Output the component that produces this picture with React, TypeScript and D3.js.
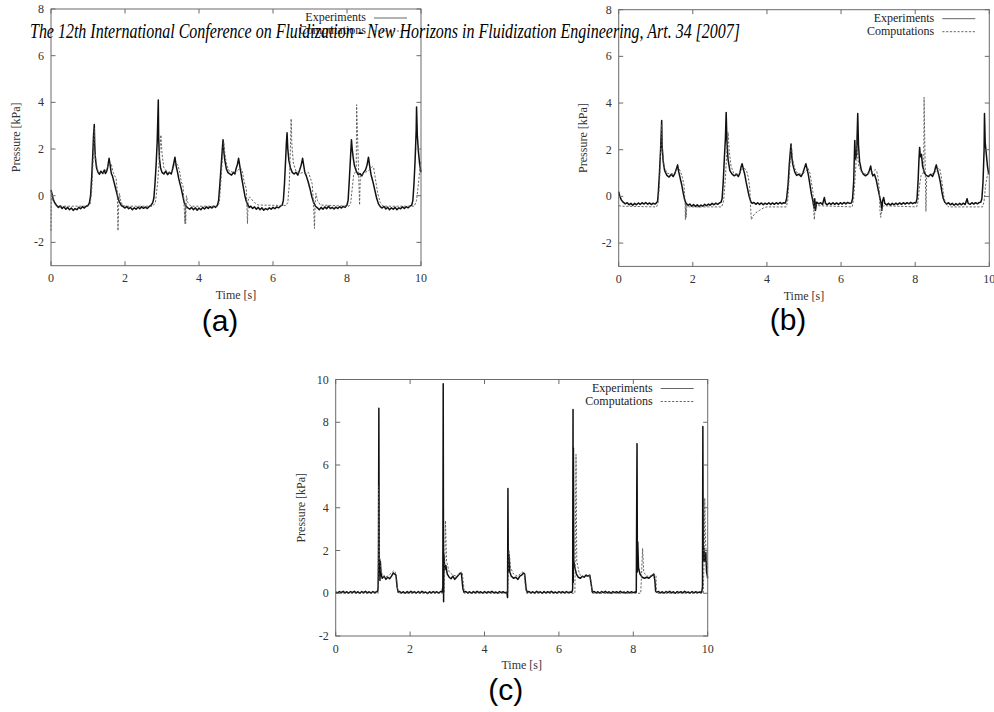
import React from "react";
import * as d3 from "d3";

const TITLE =
  "The 12th International Conference on Fluidization - New Horizons in Fluidization Engineering, Art. 34 [2007]";
const SERIES_NAMES = ["Experiments", "Computations"];
const PANEL_LABELS = ["(a)", "(b)", "(c)"];
const X_LABEL = "Time [s]";
const Y_LABEL = "Pressure [kPa]";
const X_TICKS = [0, 2, 4, 6, 8, 10];
const Y_TICKS_AB = [-2, 0, 2, 4, 6, 8];
const Y_TICKS_C = [-2, 0, 2, 4, 6, 8, 10];

type P = [number, number];

const aExp: P[] = [
  [0,0.25],[0.03,0.05],[0.06,-0.15],[0.1,-0.3],[0.15,-0.42],
  [0.2,-0.5],[0.25,-0.44],[0.3,-0.55],[0.35,-0.48],[0.4,-0.58],[0.45,-0.5],[0.5,-0.6],[0.55,-0.53],[0.6,-0.63],[0.65,-0.55],[0.7,-0.6],[0.75,-0.5],[0.8,-0.56],[0.85,-0.47],[0.9,-0.53],[0.95,-0.45],
  [1.0,-0.42],[1.04,-0.3],[1.07,0.0],[1.1,0.8],[1.13,1.8],[1.15,2.6],[1.17,3.05],[1.18,2.2],[1.2,1.6],[1.23,1.2],[1.27,1.0],[1.31,0.92],[1.35,1.05],[1.4,0.95],[1.44,1.1],[1.47,0.95],[1.5,1.02],[1.53,1.2],[1.57,1.6],[1.6,1.3],[1.63,0.95],[1.66,0.85],[1.7,0.6],[1.74,0.35],[1.78,0.1],[1.82,-0.15],[1.86,-0.3],[1.9,-0.42],
  [1.95,-0.47],[2.0,-0.53],[2.05,-0.46],[2.1,-0.56],[2.15,-0.5],[2.2,-0.6],[2.25,-0.52],[2.3,-0.58],[2.35,-0.49],[2.4,-0.56],[2.45,-0.48],[2.5,-0.54],[2.55,-0.49],[2.6,-0.55],[2.65,-0.47],[2.7,-0.42],
  [2.75,-0.3],[2.78,-0.1],[2.81,0.5],[2.84,1.3],[2.87,2.3],[2.9,4.1],[2.91,2.5],[2.93,1.6],[2.96,1.2],[3.0,1.0],[3.05,0.93],[3.1,1.05],[3.15,0.9],[3.2,1.0],[3.25,0.93],[3.28,1.1],[3.32,1.4],[3.35,1.65],[3.38,1.3],[3.42,1.0],[3.45,0.75],[3.48,0.55],[3.52,0.3],[3.56,0.0],[3.6,-0.3],[3.65,-0.45],
  [3.7,-0.52],[3.75,-0.58],[3.8,-0.5],[3.85,-0.6],[3.9,-0.52],[3.95,-0.62],[4.0,-0.53],[4.05,-0.6],[4.1,-0.5],[4.15,-0.57],[4.2,-0.48],[4.25,-0.55],[4.3,-0.47],[4.35,-0.53],[4.4,-0.45],[4.45,-0.5],[4.5,-0.4],
  [4.53,-0.2],[4.56,0.4],[4.6,1.3],[4.63,2.0],[4.65,2.4],[4.67,1.9],[4.7,1.5],[4.74,1.15],[4.78,1.0],[4.83,0.93],[4.88,0.88],[4.93,1.0],[4.97,0.93],[5.0,1.15],[5.04,1.35],[5.07,1.6],[5.1,1.3],[5.13,1.0],[5.16,0.7],[5.2,0.35],[5.24,0.0],[5.28,-0.25],[5.32,-0.4],
  [5.36,-0.5],[5.4,-0.45],[5.45,-0.55],[5.5,-0.48],[5.55,-0.58],[5.6,-0.5],[5.65,-0.6],[5.7,-0.52],[5.75,-0.62],[5.8,-0.55],[5.85,-0.6],[5.9,-0.52],[5.95,-0.58],[6.0,-0.5],[6.05,-0.56],[6.1,-0.48],[6.15,-0.52],[6.2,-0.45],
  [6.25,-0.4],[6.28,-0.2],[6.31,0.5],[6.34,1.5],[6.36,2.2],[6.38,2.7],[6.4,2.0],[6.43,1.5],[6.47,1.2],[6.52,1.0],[6.57,0.93],[6.62,1.0],[6.67,0.88],[6.72,1.1],[6.76,1.3],[6.8,1.6],[6.83,1.3],[6.86,1.0],[6.9,0.85],[6.95,0.6],[7.0,0.3],[7.05,-0.05],[7.1,-0.3],[7.15,-0.45],
  [7.2,-0.52],[7.25,-0.6],[7.3,-0.5],[7.35,-0.58],[7.4,-0.48],[7.45,-0.56],[7.5,-0.45],[7.55,-0.55],[7.6,-0.5],[7.65,-0.57],[7.7,-0.49],[7.75,-0.55],[7.8,-0.47],[7.85,-0.53],[7.9,-0.46],[7.95,-0.5],
  [8.0,-0.4],[8.03,-0.2],[8.06,0.6],[8.09,1.5],[8.12,2.4],[8.14,2.0],[8.17,1.6],[8.2,1.3],[8.25,1.05],[8.3,0.9],[8.35,0.95],[8.4,0.85],[8.45,1.0],[8.5,1.1],[8.54,1.3],[8.58,1.65],[8.61,1.3],[8.65,0.9],[8.7,0.6],[8.75,0.25],[8.8,-0.1],[8.85,-0.35],
  [8.9,-0.47],[8.95,-0.53],[9.0,-0.46],[9.05,-0.57],[9.1,-0.5],[9.15,-0.6],[9.2,-0.52],[9.25,-0.58],[9.3,-0.5],[9.35,-0.6],[9.4,-0.52],[9.45,-0.56],[9.5,-0.48],[9.55,-0.55],[9.6,-0.47],[9.65,-0.52],[9.7,-0.45],
  [9.75,-0.4],[9.78,-0.2],[9.81,0.5],[9.84,1.5],[9.87,2.8],[9.88,3.8],[9.9,2.6],[9.93,1.9],[9.96,1.4],[10,1.0],
];

const aComp: P[] = [
  [0,-1.5],[0.01,0.15],[0.05,-0.2],[0.1,-0.35],[0.2,-0.45],[1.0,-0.45],[1.06,-0.35],[1.1,0.2],[1.14,1.6],[1.17,2.9],[1.19,2.0],[1.22,1.4],[1.27,1.05],[1.35,0.95],[1.45,1.0],[1.52,1.2],[1.58,1.4],[1.63,1.35],[1.68,1.0],[1.72,0.85],[1.76,0.75],[1.79,0.2],[1.81,-1.5],[1.83,-0.4],[1.85,0.1],[1.88,-0.2],[1.93,-0.4],[2.0,-0.45],
  [2.75,-0.45],[2.82,-0.3],[2.88,0.5],[2.93,1.6],[2.97,2.6],[3.0,1.8],[3.05,1.2],[3.15,1.0],[3.25,1.0],[3.32,1.25],[3.38,1.4],[3.43,1.3],[3.48,1.0],[3.52,0.6],[3.57,0.4],[3.6,-0.5],[3.62,-1.2],[3.63,-0.3],[3.64,-1.2],[3.66,0.0],[3.7,-0.3],[3.78,-0.45],
  [4.5,-0.45],[4.55,-0.3],[4.6,0.8],[4.64,1.8],[4.67,2.3],[4.7,1.8],[4.75,1.3],[4.82,1.05],[4.92,1.0],[5.0,1.0],[5.06,1.1],[5.12,1.2],[5.17,1.05],[5.22,0.6],[5.28,0.3],[5.31,-1.2],[5.33,-0.2],[5.36,-0.05],[5.42,-0.15],[5.5,-0.3],[5.6,-0.4],
  [6.35,-0.42],[6.4,-0.3],[6.44,0.5],[6.47,2.0],[6.49,3.3],[6.51,2.2],[6.55,1.4],[6.62,1.05],[6.72,0.95],[6.82,1.0],[6.9,0.95],[6.96,1.0],[7.0,0.8],[7.06,0.5],[7.1,-0.5],[7.12,-1.4],[7.14,-0.3],[7.16,0.1],[7.2,-0.2],[7.28,-0.4],
  [8.05,-0.45],[8.1,-0.3],[8.14,0.3],[8.18,0.9],[8.22,1.0],[8.25,1.05],[8.26,3.9],[8.34,-0.4],[8.36,0.85],[8.4,0.9],[8.5,1.0],[8.6,1.1],[8.68,1.25],[8.72,1.2],[8.78,0.6],[8.83,0.1],[8.9,-0.3],[8.98,-0.45],
  [9.82,-0.45],[9.88,-0.2],[9.93,0.5],[9.97,1.2],[10,1.5],
];

const bExp: P[] = [
  [0,0.2],[0.03,0.0],[0.07,-0.15],[0.12,-0.25],[0.18,-0.32],
  [0.23,-0.27],[0.28,-0.36],[0.33,-0.3],[0.38,-0.38],[0.43,-0.3],[0.48,-0.36],[0.53,-0.28],[0.58,-0.35],[0.63,-0.27],[0.68,-0.33],[0.73,-0.26],[0.78,-0.34],[0.83,-0.28],[0.88,-0.35],[0.93,-0.29],[0.98,-0.33],
  [1.02,-0.28],[1.05,-0.2],[1.07,0.2],[1.1,1.0],[1.13,2.0],[1.16,3.25],[1.17,2.2],[1.2,1.5],[1.24,1.1],[1.3,0.9],[1.36,0.83],[1.42,0.95],[1.47,0.85],[1.52,1.0],[1.56,1.2],[1.59,1.35],[1.62,1.05],[1.65,0.85],[1.7,0.5],[1.74,0.15],[1.78,-0.15],[1.82,-0.3],
  [1.87,-0.38],[1.92,-0.33],[1.97,-0.42],[2.02,-0.35],[2.07,-0.43],[2.12,-0.36],[2.17,-0.44],[2.22,-0.37],[2.27,-0.42],[2.32,-0.34],[2.37,-0.4],[2.42,-0.33],[2.47,-0.38],[2.52,-0.3],[2.57,-0.36],[2.62,-0.29],[2.67,-0.34],[2.72,-0.28],
  [2.76,-0.25],[2.79,-0.1],[2.82,0.6],[2.85,1.6],[2.88,2.5],[2.9,3.6],[2.92,2.4],[2.95,1.6],[3.0,1.1],[3.06,0.95],[3.12,0.88],[3.18,0.95],[3.23,0.85],[3.27,1.0],[3.3,1.25],[3.33,1.4],[3.36,1.2],[3.4,0.95],[3.44,0.6],[3.48,0.3],[3.52,0.0],[3.56,-0.2],[3.6,-0.3],
  [3.65,-0.26],[3.7,-0.34],[3.75,-0.27],[3.8,-0.35],[3.85,-0.28],[3.9,-0.36],[3.95,-0.29],[4.0,-0.34],[4.05,-0.27],[4.1,-0.35],[4.15,-0.28],[4.2,-0.34],[4.25,-0.27],[4.3,-0.33],[4.35,-0.26],[4.4,-0.32],[4.45,-0.27],
  [4.5,-0.28],[4.53,-0.1],[4.57,0.5],[4.6,1.3],[4.63,1.9],[4.65,2.25],[4.67,1.7],[4.7,1.35],[4.75,1.05],[4.8,0.9],[4.86,0.95],[4.92,0.85],[4.97,1.0],[5.01,1.2],[5.05,1.4],[5.08,1.2],[5.12,0.9],[5.16,0.5],[5.2,0.1],[5.24,-0.2],[5.27,-0.5],[5.29,-0.1],[5.31,-0.6],[5.34,-0.25],
  [5.4,-0.32],[5.45,-0.27],[5.5,-0.35],[5.55,-0.05],[5.58,-0.3],[5.63,-0.36],[5.68,-0.28],[5.73,-0.35],[5.78,-0.27],[5.83,-0.34],[5.88,-0.28],[5.93,-0.35],[5.98,-0.27],[6.03,-0.33],[6.08,-0.26],[6.13,-0.32],[6.18,-0.26],[6.23,-0.3],
  [6.28,-0.28],[6.31,-0.1],[6.34,0.6],[6.37,2.4],[6.39,1.6],[6.42,1.8],[6.45,3.55],[6.47,2.2],[6.5,1.5],[6.55,1.1],[6.6,0.95],[6.66,0.88],[6.72,0.95],[6.76,1.1],[6.8,1.3],[6.83,1.0],[6.86,0.88],[6.9,0.95],[6.95,0.7],[7.0,0.3],[7.04,0.0],[7.08,-0.3],[7.1,-0.6],[7.12,-0.2],[7.15,-0.05],[7.18,-0.3],
  [7.23,-0.36],[7.28,-0.3],[7.33,-0.38],[7.38,-0.3],[7.43,-0.36],[7.48,-0.29],[7.53,-0.35],[7.58,-0.28],[7.63,-0.34],[7.68,-0.27],[7.73,-0.33],[7.78,-0.27],[7.83,-0.32],[7.88,-0.26],[7.93,-0.31],[7.98,-0.27],
  [8.02,-0.28],[8.05,-0.1],[8.08,0.7],[8.1,1.5],[8.12,2.1],[8.14,1.7],[8.17,1.8],[8.2,1.3],[8.25,1.0],[8.3,0.9],[8.36,0.85],[8.42,0.95],[8.47,0.85],[8.52,1.05],[8.55,1.25],[8.57,1.35],[8.6,1.15],[8.64,0.9],[8.68,0.6],[8.72,0.2],[8.76,-0.1],[8.8,-0.25],
  [8.85,-0.33],[8.9,-0.27],[8.95,-0.36],[9.0,-0.3],[9.05,-0.38],[9.1,-0.31],[9.15,-0.37],[9.2,-0.3],[9.25,-0.36],[9.3,-0.29],[9.35,-0.35],[9.4,-0.1],[9.43,-0.3],[9.48,-0.34],[9.53,-0.27],[9.58,-0.33],[9.63,-0.27],[9.68,-0.32],[9.73,-0.26],
  [9.77,-0.25],[9.8,-0.1],[9.83,0.6],[9.86,2.0],[9.87,3.55],[9.89,2.3],[9.92,1.8],[9.95,1.3],[9.98,1.0],[10,0.95],
];

const bComp: P[] = [
  [0,-0.4],[0.1,-0.42],[1.02,-0.45],[1.06,-0.3],[1.1,0.5],[1.13,1.8],[1.16,3.1],[1.18,2.0],[1.22,1.3],[1.3,1.0],[1.4,0.95],[1.5,1.0],[1.57,1.15],[1.63,1.2],[1.68,1.0],[1.72,0.8],[1.76,0.5],[1.79,-0.2],[1.8,-1.0],[1.81,-0.3],[1.82,-0.9],[1.84,-0.4],[1.9,-0.45],
  [2.78,-0.45],[2.83,-0.2],[2.88,0.8],[2.92,2.0],[2.95,2.75],[2.98,2.0],[3.03,1.3],[3.1,1.0],[3.2,0.95],[3.28,1.05],[3.35,1.2],[3.4,1.2],[3.45,1.1],[3.5,0.8],[3.54,0.3],[3.56,-0.5],[3.58,-1.0],[3.62,-0.85],[3.7,-0.7],[3.8,-0.6],[3.9,-0.5],[4.0,-0.45],
  [4.52,-0.45],[4.56,-0.2],[4.6,0.8],[4.64,1.8],[4.66,2.2],[4.69,1.6],[4.75,1.2],[4.82,1.0],[4.92,0.95],[5.0,1.0],[5.06,1.1],[5.11,1.2],[5.16,1.0],[5.2,0.6],[5.24,0.2],[5.26,-0.6],[5.28,-1.0],[5.3,-0.3],[5.33,-0.35],[5.4,-0.4],
  [6.3,-0.45],[6.34,-0.1],[6.37,0.6],[6.4,1.3],[6.42,2.5],[6.44,1.8],[6.48,1.3],[6.55,1.05],[6.65,0.95],[6.75,1.0],[6.85,1.05],[6.92,1.15],[6.96,1.1],[7.0,0.8],[7.03,0.3],[7.05,-0.6],[7.07,-0.9],[7.1,-0.5],[7.15,-0.4],
  [8.04,-0.45],[8.08,-0.2],[8.12,0.5],[8.16,0.9],[8.2,1.0],[8.23,1.0],[8.24,4.25],[8.29,-0.65],[8.31,0.8],[8.36,0.9],[8.45,0.95],[8.55,1.05],[8.62,1.2],[8.66,1.2],[8.7,0.9],[8.74,0.4],[8.78,-0.1],[8.84,-0.35],[8.9,-0.45],
  [9.82,-0.45],[9.86,-0.2],[9.9,0.5],[9.95,0.9],[10,1.1],
];

const cExp: P[] = [
  [0,0.06],[0.05,0.02],[0.1,0.08],[0.15,0.03],[0.2,0.09],[0.25,0.02],[0.3,0.07],[0.35,0.01],[0.4,0.08],[0.45,0.03],[0.5,0.09],[0.55,0.02],[0.6,0.07],[0.65,0.0],[0.7,0.08],[0.75,0.03],[0.8,0.09],[0.85,0.02],[0.9,0.07],[0.95,0.01],[1.0,0.08],[1.05,0.03],[1.1,0.07],[1.13,0.1],
  [1.14,0.3],[1.15,1.5],[1.16,8.65],[1.17,1.0],[1.18,1.6],[1.19,0.6],[1.2,1.5],[1.22,0.9],[1.25,0.7],[1.3,0.8],[1.35,0.65],[1.4,0.75],[1.45,0.68],[1.5,0.8],[1.55,0.95],[1.58,0.9],[1.62,0.85],[1.65,0.3],[1.68,0.05],
  [1.72,0.08],[1.77,0.02],[1.82,0.07],[1.87,0.0],[1.92,0.08],[1.97,0.02],[2.02,0.09],[2.07,0.03],[2.12,0.07],[2.17,0.01],[2.22,0.08],[2.27,0.02],[2.32,0.09],[2.37,0.03],[2.42,0.06],[2.47,-0.01],[2.52,0.07],[2.57,0.02],[2.62,0.08],[2.67,0.03],[2.72,0.07],[2.77,0.01],[2.82,0.08],[2.86,0.05],
  [2.88,0.3],[2.89,9.8],[2.9,-0.4],[2.91,1.8],[2.93,1.1],[2.96,1.3],[3.0,0.9],[3.05,0.75],[3.1,0.68],[3.15,0.8],[3.2,0.65],[3.25,0.75],[3.3,0.85],[3.35,0.95],[3.38,0.9],[3.42,0.2],[3.45,0.05],
  [3.5,0.08],[3.55,0.02],[3.6,0.07],[3.65,0.0],[3.7,0.08],[3.75,0.02],[3.8,0.09],[3.85,0.03],[3.9,0.07],[3.95,0.01],[4.0,0.08],[4.05,0.02],[4.1,0.07],[4.15,0.03],[4.2,0.09],[4.25,0.02],[4.3,0.06],[4.35,0.0],[4.4,0.08],[4.45,0.03],[4.5,0.07],[4.55,0.02],[4.6,0.05],
  [4.62,-0.2],[4.63,4.9],[4.64,1.0],[4.66,1.8],[4.68,1.0],[4.72,0.8],[4.78,0.7],[4.84,0.75],[4.9,0.65],[4.95,0.8],[5.0,0.85],[5.05,0.95],[5.08,0.9],[5.12,0.2],[5.15,0.05],
  [5.2,0.08],[5.25,0.02],[5.3,0.07],[5.35,0.01],[5.4,0.09],[5.45,0.03],[5.5,0.07],[5.55,0.0],[5.6,0.08],[5.65,0.02],[5.7,0.07],[5.75,0.03],[5.8,0.09],[5.85,0.02],[5.9,0.06],[5.95,0.01],[6.0,0.08],[6.05,0.03],[6.1,0.07],[6.15,0.02],[6.2,0.08],[6.25,0.03],[6.3,0.06],[6.35,0.05],
  [6.37,0.2],[6.38,8.6],[6.385,0.5],[6.39,6.8],[6.4,1.5],[6.43,1.2],[6.47,0.9],[6.52,0.75],[6.58,0.7],[6.63,0.8],[6.68,0.75],[6.73,0.85],[6.78,0.8],[6.83,0.85],[6.87,0.4],[6.9,0.05],
  [6.95,0.08],[7.0,0.02],[7.05,0.07],[7.1,0.01],[7.15,0.08],[7.2,0.03],[7.25,0.09],[7.3,0.02],[7.35,0.07],[7.4,0.0],[7.45,0.08],[7.5,0.03],[7.55,0.07],[7.6,0.02],[7.65,0.09],[7.7,0.03],[7.75,0.06],[7.8,0.01],[7.85,0.08],[7.9,0.02],[7.95,0.07],[8.0,0.03],[8.05,0.06],[8.08,0.05],
  [8.1,7.0],[8.11,1.0],[8.12,2.4],[8.14,1.2],[8.18,0.9],[8.24,0.75],[8.3,0.7],[8.36,0.75],[8.42,0.7],[8.48,0.8],[8.52,0.85],[8.55,0.9],[8.58,0.6],[8.6,0.1],[8.63,0.05],
  [8.68,0.08],[8.73,0.02],[8.78,0.07],[8.83,0.01],[8.88,0.08],[8.93,0.03],[8.98,0.09],[9.03,0.02],[9.08,0.07],[9.13,0.0],[9.18,0.08],[9.23,0.03],[9.28,0.07],[9.33,0.02],[9.38,0.09],[9.43,0.03],[9.48,0.06],[9.53,0.01],[9.58,0.08],[9.63,0.02],[9.68,0.07],[9.73,0.03],[9.78,0.06],[9.84,0.05],
  [9.86,0.3],[9.87,7.8],[9.88,1.5],[9.9,2.1],[9.92,1.5],[9.95,1.9],[9.97,1.0],[10,0.7],
];

const cComp: P[] = [
  [0,0.0],[1.14,0.0],[1.16,5.0],[1.18,1.6],[1.22,1.0],[1.3,0.75],[1.4,0.8],[1.5,0.95],[1.56,1.05],[1.6,1.0],[1.64,0.6],[1.67,0.05],[1.7,0.0],
  [2.92,0.0],[2.95,3.4],[2.98,1.5],[3.05,1.0],[3.15,0.85],[3.25,0.8],[3.35,0.95],[3.4,1.0],[3.43,0.5],[3.46,0.0],
  [4.63,0.0],[4.66,2.0],[4.7,1.2],[4.78,0.9],[4.88,0.8],[4.96,0.9],[5.02,1.0],[5.07,0.9],[5.1,0.3],[5.13,0.0],
  [6.43,0.0],[6.46,6.5],[6.48,1.5],[6.55,0.9],[6.65,0.75],[6.75,0.8],[6.82,0.85],[6.86,0.6],[6.89,0.0],
  [8.2,0.0],[8.22,0.8],[8.25,2.1],[8.28,1.0],[8.35,0.8],[8.45,0.8],[8.55,0.9],[8.61,0.85],[8.62,0.0],
  [9.88,0.0],[9.91,2.0],[9.92,4.45],[9.94,2.5],[9.97,1.5],[10,1.2],
];

const SERIF = "'Liberation Serif', 'Times New Roman', serif";
const SANS = "'Liberation Sans', Arial, sans-serif";

interface PanelProps {
  left: number;
  right: number;
  top: number;
  bottom: number;
  yDomain: [number, number];
  yTicks: number[];
  exp: P[];
  comp: P[];
  label: string;
  yLabelX: number;
  xLabelY: number;
  panelLabelY: number;
}

function Panel(props: PanelProps) {
  const { left, right, top, bottom, yDomain, yTicks, exp, comp, label, yLabelX, xLabelY, panelLabelY } = props;
  const x = d3.scaleLinear().domain([0, 10]).range([left, right]);
  const y = d3.scaleLinear().domain(yDomain).range([bottom, top]);
  const line = d3
    .line<P>()
    .x((d) => x(d[0]))
    .y((d) => y(d[1]));
  const tick = 4.5;
  const frameColor = "#6a6a6a";
  const cx = (left + right) / 2;
  const cy = (top + bottom) / 2;
  const legRight = right - 55;
  return (
    <g>
      <path d={line(exp) || ""} fill="none" stroke="#111" strokeWidth={1.5} strokeLinejoin="round" />
      <path d={line(comp) || ""} fill="none" stroke="#555" strokeWidth={0.9} strokeDasharray="2.2,1.6" />
      <rect x={left} y={top} width={right - left} height={bottom - top} fill="none" stroke={frameColor} strokeWidth={1} />
      {X_TICKS.map((t) => (
        <g key={"x" + t}>
          <line x1={x(t)} x2={x(t)} y1={bottom} y2={bottom - tick} stroke={frameColor} />
          <line x1={x(t)} x2={x(t)} y1={top} y2={top + tick} stroke={frameColor} />
          <text x={x(t)} y={bottom + 16.5} textAnchor="middle" fontFamily={SERIF} fontSize={12} fill="#333">
            {t}
          </text>
        </g>
      ))}
      {yTicks.map((t) => (
        <g key={"y" + t}>
          <line x1={left} x2={left + tick} y1={y(t)} y2={y(t)} stroke={frameColor} />
          <line x1={right} x2={right - tick} y1={y(t)} y2={y(t)} stroke={frameColor} />
          <text x={left - 7} y={y(t) + 4} textAnchor="end" fontFamily={SERIF} fontSize={12} fill="#333">
            {t}
          </text>
        </g>
      ))}
      <text x={cx} y={xLabelY} textAnchor="middle" fontFamily={SERIF} fontSize={12} fill="#333">
        {X_LABEL}
      </text>
      <text
        transform={`translate(${yLabelX},${cy}) rotate(-90)`}
        textAnchor="middle"
        fontFamily={SERIF}
        fontSize={12}
        fill="#333"
      >
        {Y_LABEL}
      </text>
      <text x={legRight} y={top + 12} textAnchor="end" fontFamily={SERIF} fontSize={12} fill="#222">
        {SERIES_NAMES[0]}
      </text>
      <line x1={right - 47} x2={right - 14} y1={top + 9} y2={top + 9} stroke="#555" strokeWidth={0.9} />
      <text x={legRight} y={top + 25} textAnchor="end" fontFamily={SERIF} fontSize={12} fill="#222">
        {SERIES_NAMES[1]}
      </text>
      <line
        x1={right - 47}
        x2={right - 14}
        y1={top + 22}
        y2={top + 22}
        stroke="#555"
        strokeWidth={0.9}
        strokeDasharray="2.2,1.6"
      />
      <text x={cx - 16} y={panelLabelY} textAnchor="middle" fontFamily={SANS} fontSize={30} fill="#000">
        {label}
      </text>
    </g>
  );
}

export default function App() {
  return (
    <svg
      width={994}
      height={712}
      style={{ position: "absolute", left: 0, top: 0, background: "#fff" }}
    >
      <rect width={994} height={712} fill="#fff" />
      <Panel
        left={51}
        right={421}
        top={9}
        bottom={265.7}
        yDomain={[-3, 8]}
        yTicks={Y_TICKS_AB}
        exp={aExp}
        comp={aComp}
        label={PANEL_LABELS[0]}
        yLabelX={20}
        xLabelY={299}
        panelLabelY={331}
      />
      <Panel
        left={618.7}
        right={989.3}
        top={9.7}
        bottom={266.4}
        yDomain={[-3, 8]}
        yTicks={Y_TICKS_AB}
        exp={bExp}
        comp={bComp}
        label={PANEL_LABELS[1]}
        yLabelX={587}
        xLabelY={300}
        panelLabelY={330}
      />
      <Panel
        left={335.7}
        right={707.7}
        top={379.5}
        bottom={636}
        yDomain={[-2, 10]}
        yTicks={Y_TICKS_C}
        exp={cExp}
        comp={cComp}
        label={PANEL_LABELS[2]}
        yLabelX={305}
        xLabelY={669}
        panelLabelY={700}
      />
      <text
        x={30}
        y={37.5}
        fontFamily={SERIF}
        fontStyle="italic"
        fontSize={20.5}
        fill="#000"
        textLength={710}
        lengthAdjust="spacingAndGlyphs"
      >
        {TITLE}
      </text>
    </svg>
  );
}
